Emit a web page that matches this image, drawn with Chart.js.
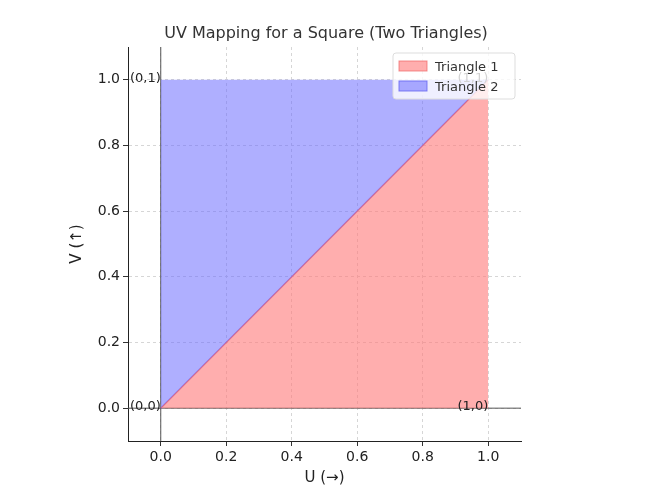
<!DOCTYPE html>
<html><head><meta charset="utf-8">
<script src="https://cdn.jsdelivr.net/npm/chart.js@4"></script>
<style>body{margin:0;background:#fff}#wrap{width:654px;height:491px}</style>
</head><body><div id="wrap"><canvas id="c"></canvas></div>
<script>
// data
const TITLE = "UV Mapping for a Square (Two Triangles)";
const DIAGONAL = [{ x: 0, y: 0 }, { x: 1, y: 1 }];
const SERIES = ["Triangle 1", "Triangle 2"];
const TICKS = [0, 0.2, 0.4, 0.6, 0.8, 1.0];
const CORNERS = [
  { x: 0, y: 0, text: "(0,0)" },
  { x: 1, y: 0, text: "(1,0)" },
  { x: 0, y: 1, text: "(0,1)" },
  { x: 1, y: 1, text: "(1,1)" }
];
const FONT = "'DejaVu Sans', sans-serif";

const setTicks = s => { s.ticks = TICKS.map(v => ({ value: v })); };

const overlay = {
  id: "overlay",
  beforeDatasetsDraw(chart) {
    const { ctx, scales: { x, y }, chartArea: a } = chart;
    ctx.save();
    ctx.strokeStyle = "#555";
    ctx.lineWidth = 1;
    ctx.beginPath();
    ctx.moveTo(x.getPixelForValue(0), a.top); ctx.lineTo(x.getPixelForValue(0), a.bottom);
    ctx.moveTo(a.left, y.getPixelForValue(0)); ctx.lineTo(a.right, y.getPixelForValue(0));
    ctx.stroke();
    ctx.restore();
  },
  afterDraw(chart) {
    const { ctx, scales: { x, y }, chartArea: a } = chart;
    ctx.save();
    ctx.fillStyle = "#333";
    ctx.font = "16px " + FONT;
    ctx.textAlign = "center";
    ctx.fillText(TITLE, 326, 38);
    ctx.font = "13px " + FONT;
    ctx.fillStyle = "#222";
    ctx.textAlign = "right";
    CORNERS.forEach(c => {
      ctx.fillText(c.text, x.getPixelForValue(c.x), y.getPixelForValue(c.y) + 2);
    });
    // legend
    const lx = a.right - 128, ly = a.top + 6;
    ctx.fillStyle = "rgba(255,255,255,0.8)";
    ctx.strokeStyle = "#ddd";
    ctx.beginPath(); ctx.roundRect(lx, ly, 122, 46, 3); ctx.fill(); ctx.stroke();
    const cols = [["rgba(255,120,120,0.6)", "rgba(240,100,100,0.7)"], ["rgba(110,110,255,0.55)", "rgba(100,100,240,0.8)"]];
    ctx.font = "13px " + FONT;
    ctx.textAlign = "left";
    SERIES.forEach((s, i) => {
      const yy = ly + 8 + i * 20;
      ctx.fillStyle = cols[i][0]; ctx.strokeStyle = cols[i][1];
      ctx.fillRect(lx + 6, yy, 28, 10); ctx.strokeRect(lx + 6, yy, 28, 10);
      ctx.fillStyle = "#333";
      ctx.fillText(s, lx + 42, yy + 10);
    });
    ctx.restore();
  }
};

new Chart(document.getElementById("c"), {
  type: "scatter",
  data: {
    datasets: [
      { label: SERIES[0], data: DIAGONAL, showLine: true, fill: "origin",
        backgroundColor: "rgba(255,120,120,0.6)", borderColor: "rgba(240,100,100,0.7)", borderWidth: 1, pointRadius: 0 },
      { label: SERIES[1], data: DIAGONAL, showLine: true, fill: { value: 1 },
        backgroundColor: "rgba(110,110,255,0.55)", borderColor: "rgba(120,100,240,0.8)", borderWidth: 1.5, pointRadius: 0 }
    ]
  },
  options: {
    responsive: true, maintainAspectRatio: false, animation: false,
    layout: { padding: { top: 47, right: 133, left: 68, bottom: 4 } },
    plugins: { legend: { display: false }, tooltip: { enabled: false } },
    scales: {
      x: {
        min: -0.1, max: 1.1, afterBuildTicks: setTicks,
        afterFit: s => { s.height = 46; },
        grid: { color: "#d6d6d6", tickColor: "#333", tickLength: 5 },
        border: { color: "#222", dash: [3, 3] },
        ticks: { color: "#222", font: { family: FONT, size: 14 }, callback: v => v.toFixed(1) },
        title: { display: true, text: "U (→)", color: "#222", font: { family: FONT, size: 15 }, padding: 0 }
      },
      y: {
        min: -0.1, max: 1.1, afterBuildTicks: setTicks,
        afterFit: s => { s.width = 60; },
        grid: { color: "#d6d6d6", tickColor: "#333", tickLength: 5 },
        border: { color: "#222", dash: [3, 3] },
        ticks: { color: "#222", font: { family: FONT, size: 14 }, callback: v => v.toFixed(1) },
        title: { display: true, text: "V (↑)", color: "#222", font: { family: FONT, size: 15 }, padding: 0 }
      }
    }
  },
  plugins: [overlay]
});
</script></body></html>
